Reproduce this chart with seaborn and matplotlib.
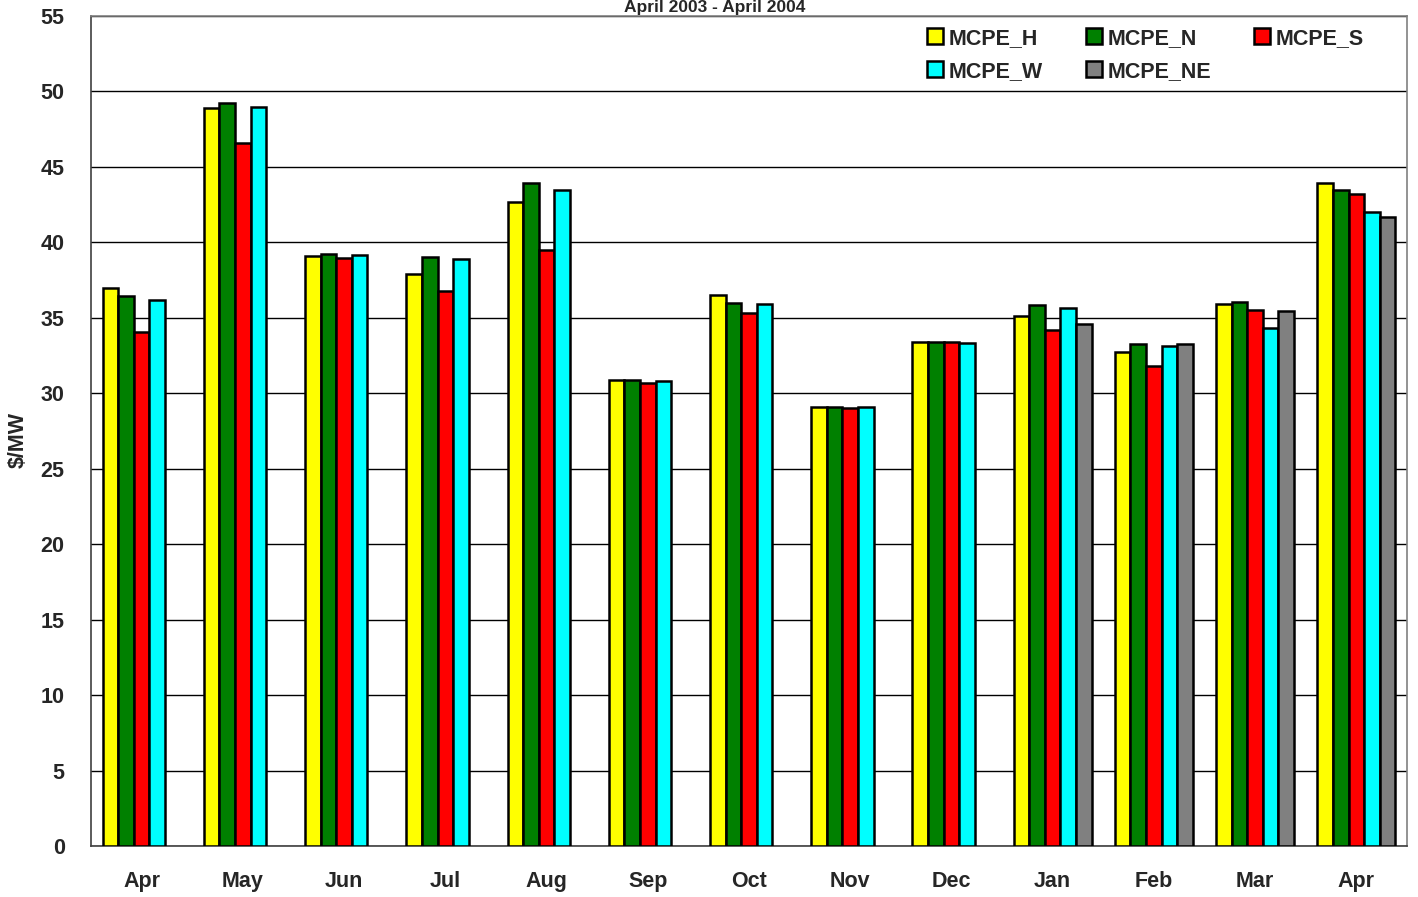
import numpy as np
import pandas as pd
import matplotlib
matplotlib.use("Agg")
import matplotlib.pyplot as plt
import seaborn as sns

months = ["Apr-03", "May", "Jun", "Jul", "Aug", "Sep", "Oct", "Nov", "Dec", "Jan", "Feb", "Mar", "Apr-04"]
month_labels = ["Apr", "May", "Jun", "Jul", "Aug", "Sep", "Oct", "Nov", "Dec", "Jan", "Feb", "Mar", "Apr"]
series = ["MCPE_H", "MCPE_N", "MCPE_S", "MCPE_W", "MCPE_NE"]
colors = ["#FFFF00", "#008000", "#FF0000", "#00FFFF", "#808080"]

mcpe_h = [37.0, 48.9, 39.1, 37.9, 42.7, 30.9, 36.5, 29.1, 33.4, 35.1, 32.7, 35.9, 43.9]
mcpe_n = [36.45, 49.2, 39.2, 39.0, 43.9, 30.9, 36.0, 29.1, 33.4, 35.85, 33.25, 36.05, 43.45]
mcpe_s = [34.05, 46.6, 38.95, 36.75, 39.5, 30.65, 35.3, 29.0, 33.4, 34.2, 31.8, 35.5, 43.2]
mcpe_w = [36.2, 49.0, 39.15, 38.9, 43.45, 30.8, 35.9, 29.1, 33.3, 35.65, 33.15, 34.35, 42.0]
mcpe_ne = [np.nan] * 9 + [34.6, 33.25, 35.45, 41.65]

values = [mcpe_h, mcpe_n, mcpe_s, mcpe_w, mcpe_ne]
rows = []
for s, vals in zip(series, values):
    for m, v in zip(months, vals):
        rows.append({"Month": m, "Series": s, "Value": v})
df = pd.DataFrame(rows)

sns.set_style("white")
plt.rcParams['font.family'] = ['Liberation Sans', 'DejaVu Sans']

fig = plt.figure(figsize=(14.18, 8.97), dpi=100)
ax = fig.add_axes([0.0642, 0.0569, 0.9280, 0.9253])

sns.barplot(data=df, x="Month", y="Value", hue="Series", order=months,
            hue_order=series, palette=colors, width=0.77, errorbar=None,
            edgecolor="black", linewidth=1.8, ax=ax, zorder=3, saturation=1)

ax.set_ylim(0, 55)
ax.set_xlim(-0.5, len(months) - 0.5)
ax.set_yticks(np.arange(0, 56, 5))
ax.yaxis.grid(True, color="black", linewidth=1.0, zorder=0)
ax.set_axisbelow(True)

ax.set_xticks(np.arange(len(months)))
ax.set_xticklabels(month_labels, fontsize=15.5, fontweight="bold")
ax.set_xticks(np.arange(len(months) + 1) - 0.5, minor=True)
ax.tick_params(axis="x", which="major", length=0, pad=18)
ax.tick_params(axis="x", which="minor", length=6, width=1.0, color="#404040", direction="out")
ax.tick_params(axis="y", length=10, width=1.0, color="#404040", direction="out", pad=9)
for lbl in ax.get_yticklabels():
    lbl.set_fontsize(15.5)
    lbl.set_fontweight("bold")

ax.set_xlabel("")
ax.set_ylabel("")
fig.text(0.0125, 0.51, "$/MW", rotation=90, ha="center", va="center",
         fontsize=15.5, fontweight="bold")

for side in ["left", "bottom"]:
    ax.spines[side].set_color("#404040")
    ax.spines[side].set_linewidth(1.2)
for side in ["top", "right"]:
    ax.spines[side].set_color("#808080")
    ax.spines[side].set_linewidth(1.2)

handles, labels = ax.get_legend_handles_labels()
order = [0, 3, 1, 4, 2]
leg = ax.legend([handles[i] for i in order], [labels[i] for i in order],
                ncol=3, loc="upper right", bbox_to_anchor=(0.982, 1.009), frameon=False,
                prop={"weight": "bold", "size": 15.5}, handlelength=0.75, handleheight=0.75,
                handletextpad=0.25, columnspacing=2.0, labelspacing=0.55)
for h in leg.legend_handles:
    h.set_edgecolor("black")
    h.set_linewidth(1.8)

fig.text(0.504, 1.0, "April 2003 - April 2004", ha="center", va="top",
         fontsize=12.5, fontweight="bold")

fig.savefig("out.png", dpi=100)
